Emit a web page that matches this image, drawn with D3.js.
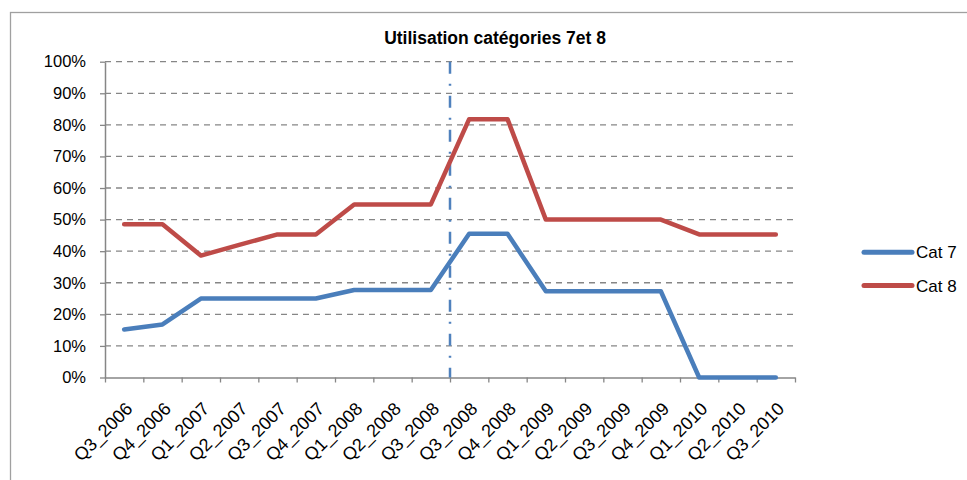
<!DOCTYPE html>
<html>
<head>
<meta charset="utf-8">
<script src="https://cdn.jsdelivr.net/npm/d3@7"></script>
<style>
  html, body { margin: 0; padding: 0; background: #fff; }
  svg { display: block; font-family: "Liberation Sans", Arial, sans-serif; }
</style>
</head>
<body>
<svg id="chart" width="967" height="480"></svg>
<script>
// Quarter labels (Q3_2008 appears twice in the source series)
const quarters = ["Q3_2006", "Q4_2006", "Q1_2007", "Q2_2007", "Q3_2007", "Q4_2007",
  "Q1_2008", "Q2_2008", "Q3_2008", "Q3_2008", "Q4_2008", "Q1_2009", "Q2_2009",
  "Q3_2009", "Q4_2009", "Q1_2010", "Q2_2010", "Q3_2010"];

const cat7 = [0.152, 0.168, 0.25, 0.25, 0.25, 0.25, 0.277, 0.277, 0.277, 0.455, 0.455,
  0.273, 0.273, 0.273, 0.273, 0, 0, 0];
const cat8 = [0.485, 0.485, 0.386, 0.42, 0.453, 0.453, 0.548, 0.548, 0.548, 0.818, 0.818,
  0.50, 0.50, 0.50, 0.50, 0.453, 0.453, 0.453];

const seriesNames = ["Cat 7", "Cat 8"];
const seriesColors = ["#4a7ebb", "#be4b48"];
const yTicks = [0, 0.1, 0.2, 0.3, 0.4, 0.5, 0.6, 0.7, 0.8, 0.9, 1.0];
// Category boundary where the dash-dot marker is drawn (between the two Q3_2008 entries)
const markerBoundary = 9;
const title = "Utilisation catégories 7et 8";

const svg = d3.select("#chart");
const plot = { left: 105, right: 795, top: 61.7, bottom: 377.5 };
const axisColor = "#868686";

// Outer chart frame (extends past the right and bottom edges)
svg.append("rect")
  .attr("x", 10.5).attr("y", 12.5)
  .attr("width", 1000).attr("height", 500)
  .attr("fill", "none").attr("stroke", "#a0a0a0").attr("stroke-width", 1.3);

const xb = d3.scaleLinear().domain([0, quarters.length]).range([plot.left, plot.right]);
const xc = i => xb(i + 0.5);
const y = d3.scaleLinear().domain([0, 1]).range([plot.bottom, plot.top]);

// Horizontal dashed gridlines
svg.append("g")
  .selectAll("line")
  .data(yTicks.filter(t => t > 0))
  .join("line")
  .attr("x1", plot.left).attr("x2", plot.right)
  .attr("y1", d => y(d)).attr("y2", d => y(d))
  .attr("stroke", axisColor).attr("stroke-width", 1.3)
  .attr("stroke-dasharray", "6,5");

// Y axis
const yAxis = svg.append("g")
  .attr("transform", `translate(${plot.left},0)`)
  .call(d3.axisLeft(y).tickValues(yTicks).tickFormat(d3.format(".0%")).tickSize(5).tickSizeOuter(0).tickPadding(14));
yAxis.select(".domain").attr("stroke", axisColor).attr("stroke-width", 1.5);
yAxis.selectAll(".tick line").attr("stroke", axisColor).attr("stroke-width", 1.3);
yAxis.selectAll(".tick text")
  .attr("font-size", 16.5).attr("fill", "#000")
  .attr("font-family", "Liberation Sans, Arial, sans-serif");

// X axis: ticks on category boundaries
const xAxis = svg.append("g")
  .attr("transform", `translate(0,${plot.bottom})`)
  .call(d3.axisBottom(xb).tickValues(d3.range(quarters.length + 1)).tickFormat("").tickSize(5).tickSizeOuter(0));
xAxis.select(".domain").attr("stroke", axisColor).attr("stroke-width", 1.5);
xAxis.selectAll(".tick line").attr("stroke", axisColor).attr("stroke-width", 1.3);

// Rotated category labels centered on each category
svg.append("g")
  .selectAll("text")
  .data(quarters)
  .join("text")
  .attr("transform", (d, i) => `translate(${xc(i) + 5},${plot.bottom + 28}) rotate(-45)`)
  .attr("text-anchor", "end")
  .attr("dy", "0.35em")
  .attr("font-size", 18)
  .attr("fill", "#000")
  .text(d => d);

// Dash-dot vertical marker
svg.append("line")
  .attr("x1", xb(markerBoundary)).attr("x2", xb(markerBoundary))
  .attr("y1", plot.top).attr("y2", plot.bottom)
  .attr("stroke", "#4f81bd").attr("stroke-width", 2.5)
  .attr("stroke-dasharray", "12,10,2,10");

// Series lines
const line = d3.line().x((d, i) => xc(i)).y(d => y(d));
[cat7, cat8].forEach((vals, k) => {
  svg.append("path")
    .datum(vals)
    .attr("d", line)
    .attr("fill", "none")
    .attr("stroke", seriesColors[k])
    .attr("stroke-width", 4.5)
    .attr("stroke-linejoin", "round")
    .attr("stroke-linecap", "round");
});

// Title
svg.append("text")
  .attr("x", 495).attr("y", 44)
  .attr("text-anchor", "middle")
  .attr("font-size", 17.5).attr("font-weight", "bold")
  .attr("fill", "#000")
  .text(title);

// Legend
const legend = svg.append("g")
  .selectAll("g")
  .data(seriesNames)
  .join("g")
  .attr("transform", (d, i) => `translate(864,${252.3 + i * 33.3})`);
legend.append("line")
  .attr("x1", 0).attr("x2", 48)
  .attr("stroke", (d, i) => seriesColors[i])
  .attr("stroke-width", 5)
  .attr("stroke-linecap", "round");
legend.append("text")
  .attr("x", 52).attr("dy", "0.35em")
  .attr("font-size", 17).attr("fill", "#000")
  .text(d => d);
</script>
</body>
</html>
